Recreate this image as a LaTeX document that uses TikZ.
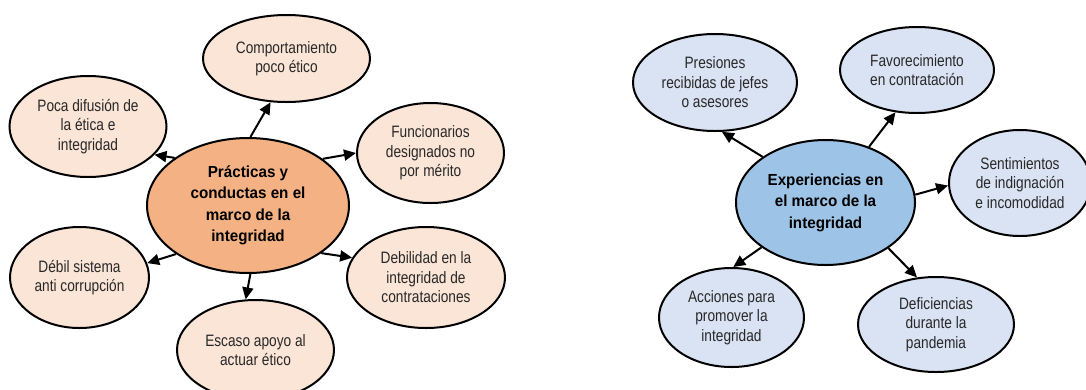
\documentclass[tikz,border=0pt]{standalone}
\usepackage{fontspec}
\setmainfont{Liberation Sans}[FakeStretch=0.83]
\newfontfamily\hubfont{Liberation Sans}[FakeStretch=0.95]
\usetikzlibrary{shapes.geometric,arrows.meta}
\definecolor{leafLfill}{RGB}{251,229,214}
\definecolor{hubLfill}{RGB}{244,177,131}
\definecolor{leafRfill}{RGB}{218,227,243}
\definecolor{hubRfill}{RGB}{157,195,230}
\definecolor{leaftext}{RGB}{40,40,40}
\tikzset{
  ell/.style={ellipse, draw=black, line width=2bp, inner sep=0pt, align=center},
  leaf/.style={ell, text=leaftext, font=\fontsize{16.5bp}{19.5bp}\selectfont},
  leafL/.style={leaf, fill=leafLfill},
  leafR/.style={leaf, fill=leafRfill},
  hub/.style={ell, text=black, font=\hubfont\bfseries\fontsize{16bp}{21.5bp}\selectfont},
  hubL/.style={hub, fill=hubLfill},
  hubR/.style={hub, fill=hubRfill},
  link/.style={line width=2bp, -{Triangle[length=12bp,width=11bp]}},
}
\begin{document}
\begin{tikzpicture}[x=1bp,y=-1bp]
\useasboundingbox (0,0) rectangle (1086,389);
% left diagram
\node[hubL, minimum width=202bp, minimum height=135bp] (L) at (248,205.5) {Prácticas y\\conductas en el\\marco de la\\integridad};
\node[leafL, minimum width=167bp, minimum height=87bp] (L1) at (286.5,58.5) {Comportamiento\\poco ético};
\node[leafL, minimum width=157bp, minimum height=101bp] (L2) at (88,126.5) {Poca difusión de\\la ética e\\integridad};
\node[leafL, minimum width=147bp, minimum height=100bp] (L3) at (430.5,153) {Funcionarios\\designados no\\por mérito};
\node[leafL, minimum width=139bp, minimum height=101bp] (L4) at (79.5,277.5) {Débil sistema\\anti corrupción};
\node[leafL, minimum width=158bp, minimum height=101bp] (L5) at (426,277.5) {Debilidad en la\\integridad de\\contrataciones};
\node[leafL, minimum width=157bp, minimum height=100bp] (L6) at (255.5,350) {Escaso apoyo al\\actuar ético};
\draw[link] (L.88) -- (L1.-110);
\draw[link] (L.147.5) -- (L2.-23);
\draw[link] (L.32) -- (L3.180);
\draw[link] (L.214) -- (L4.12);
\draw[link] (L.-33) -- (L5.165);
\draw[link] (L.-88) -- (L6.101);
% right diagram
\node[hubR, minimum width=179bp, minimum height=125bp] (R) at (825.5,202.5) {Experiencias en\\el marco de la\\integridad};
\node[leafR, minimum width=164bp, minimum height=97bp] (R1) at (715,82.5) {Presiones\\recibidas de jefes\\o asesores};
\node[leafR, minimum width=154bp, minimum height=86bp] (R2) at (917,70) {Favorecimiento\\en contratación};
\node[leafR, minimum width=142bp, minimum height=106bp] (R3) at (1020,183) {Sentimientos\\de indignación\\e incomodidad};
\node[leafR, minimum width=145bp, minimum height=99bp] (R4) at (731.5,317.5) {Acciones para\\promover la\\integridad};
\node[leafR, minimum width=156bp, minimum height=95bp] (R5) at (936,324.5) {Deficiencias\\durante la\\pandemia};
\draw[link] (R.144.4) -- (R1.-82);
\draw[link] (R.52.9) -- (R2.-117);
\draw[link] (R.5.4) -- (R3.182);
\draw[link] (R.215.6) -- (R4.88);
\draw[link] (R.-36) -- (R5.112);
\end{tikzpicture}
\end{document}
